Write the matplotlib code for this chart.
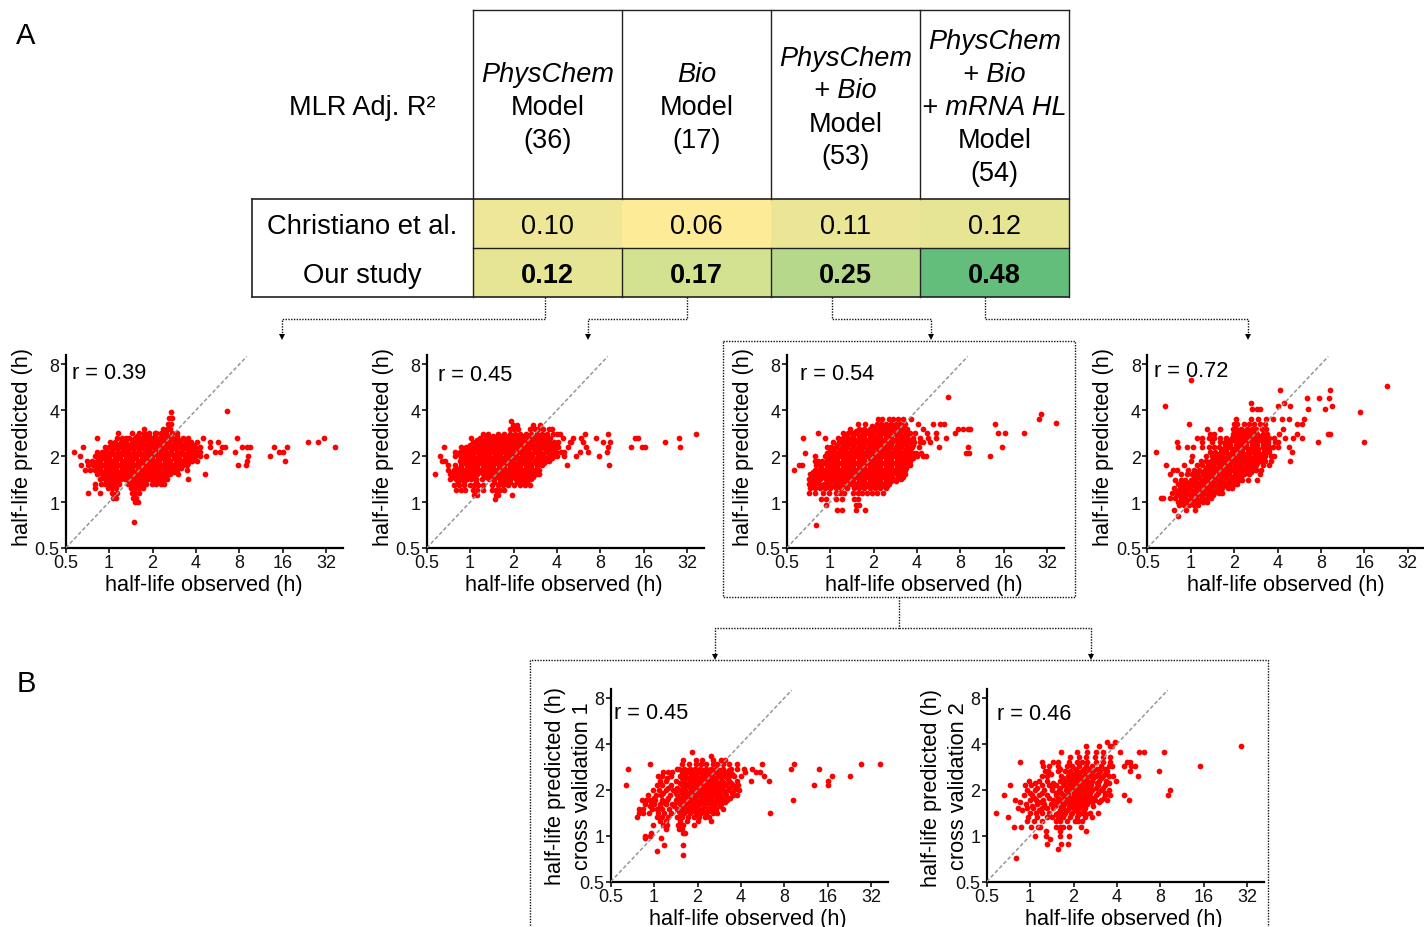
import matplotlib
matplotlib.use("Agg")
import matplotlib.pyplot as plt
from matplotlib.patches import Rectangle

plt.rcParams["font.family"] = ["Liberation Sans", "DejaVu Sans"]

W, H = 1424, 928

# table values
row_names = ["Christiano et al.", "Our study"]
christiano = ["0.10", "0.06", "0.11", "0.12"]
our_study = ["0.12", "0.17", "0.25", "0.48"]
christiano_colors = ["#EEE797", "#FEEB98", "#EBE696", "#E6E594"]
our_colors = ["#E6E594", "#D3E290", "#B6D88B", "#63BE7B"]
headers = [
    [("PhysChem", "italic"), ("Model", "normal"), ("(36)", "normal")],
    [("Bio", "italic"), ("Model", "normal"), ("(17)", "normal")],
    [("PhysChem", "italic"), ("+ Bio", "italic"), ("Model", "normal"), ("(53)", "normal")],
    [("PhysChem", "italic"), ("+ Bio", "italic"), ("+ mRNA HL", "italic"), ("Model", "normal"), ("(54)", "normal")],
]

# scatter values: (predicted, [observed, ...])
p1_rows = [
    (0.74, [1.48]),
    (1.00, [1.5, 1.58]),
    (1.07, [1.07, 1.12, 1.47, 1.54]),
    (1.14, [.71, .87, 1.05, 1.13, 1.43, 1.5, 1.6]),
    (1.23, [.8, .98, 1.04, 1.11, 1.42, 1.5, 1.6, 1.72]),
    (1.32, [.8, .88, .93, 1.0, 1.08, 1.17, 1.35, 1.44, 1.55, 1.68, 1.8, 1.98, 2.12, 2.28, 2.4]),
    (1.41, [.87, .94, 1.02, 1.1, 1.2, 1.28, 1.36, 1.48, 1.6, 1.74, 1.87, 1.96, 2.08, 2.24, 2.42, 2.52, 3.5]),
    (1.52, [.82, .89, .96, 1.04, 1.13, 1.23, 1.34, 1.46, 1.59, 1.73, 1.88, 2.04, 2.22, 2.42, 2.64, 3.0, 4.6]),
    (1.62, [.68, .74, .8, .87, .95, 1.03, 1.12, 1.22, 1.33, 1.45, 1.58, 1.72, 1.87, 2.03, 2.2, 2.4, 2.6, 2.83, 2.95, 3.45]),
    (1.74, [.64, .71, .77, .84, .91, .99, 1.08, 1.17, 1.28, 1.39, 1.52, 1.65, 1.8, 1.96, 2.13, 2.32, 2.53, 2.76, 3.0, 3.27, 3.45, 7.8, 8.9]),
    (1.87, [.7, .76, .83, .87, .95, 1.03, 1.12, 1.22, 1.33, 1.45, 1.58, 1.72, 1.88, 2.05, 2.23, 2.43, 2.65, 2.89, 3.15, 3.43, 3.74, 4.1, 9.1, 16.5]),
    (2.0, [.63, .8, .86, .93, 1.0, 1.09, 1.19, 1.3, 1.41, 1.54, 1.68, 1.83, 1.99, 2.17, 2.37, 2.58, 2.81, 3.06, 3.34, 3.64, 3.97, 4.3, 4.7, 9.2, 13]),
    (2.14, [.57, .82, .89, .97, 1.05, 1.15, 1.25, 1.36, 1.48, 1.62, 1.76, 1.92, 2.09, 2.28, 2.48, 2.7, 2.95, 3.21, 3.5, 3.82, 4.16, 4.3, 5.4, 5.9, 7.5, 15, 16]),
    (2.3, [.66, .93, 1.0, 1.09, 1.19, 1.3, 1.41, 1.54, 1.68, 1.83, 1.99, 2.17, 2.37, 2.58, 2.81, 3.06, 3.34, 3.64, 3.97, 4.3, 5.0, 6.1, 6.4, 8.4, 9.1, 9.5, 14, 17, 37]),
    (2.46, [1.02, 1.1, 1.2, 1.31, 1.43, 1.56, 1.7, 1.85, 2.02, 2.2, 2.4, 2.62, 2.85, 3.11, 3.39, 3.7, 4.05, 5.0, 5.7, 24, 28]),
    (2.64, [.82, 1.13, 1.22, 1.31, 1.38, 1.5, 1.63, 1.78, 1.94, 2.11, 2.3, 2.51, 2.73, 2.98, 3.25, 3.55, 4.5, 7.75, 31]),
    (2.83, [1.15, 1.45, 1.6, 1.75, 1.9, 2.07, 2.12, 2.3, 2.5, 2.72, 2.95]),
    (3.03, [1.75, 2.38, 2.52, 2.65]),
    (3.25, [2.55, 2.68]),
    (3.55, [2.62, 2.72]),
    (3.9, [2.7]),
    (3.97, [6.6]),
]
p1_core = [
    (1.27, [1.0, 1.08, 1.46, 1.6, 1.72]),
    (1.37, [.96, 1.05, 1.15, 1.4, 1.52, 1.66, 1.78, 2.0, 2.2, 2.35]),
    (1.47, [.9, .98, 1.07, 1.17, 1.27, 1.39, 1.51, 1.65, 1.8, 1.96, 2.14, 2.33, 2.5]),
    (1.57, [.85, .92, 1.0, 1.09, 1.19, 1.3, 1.41, 1.54, 1.68, 1.83, 1.99, 2.17, 2.37, 2.58, 2.8]),
    (1.68, [.8, .87, .95, 1.03, 1.12, 1.22, 1.33, 1.45, 1.58, 1.72, 1.88, 2.05, 2.23, 2.43, 2.65, 2.89, 3.15]),
    (1.8, [.8, .87, .95, 1.03, 1.12, 1.22, 1.33, 1.45, 1.58, 1.72, 1.88, 2.05, 2.23, 2.43, 2.65, 2.89, 3.15, 3.5]),
    (1.93, [.85, .92, 1.0, 1.09, 1.19, 1.3, 1.41, 1.54, 1.68, 1.83, 1.99, 2.17, 2.37, 2.58, 2.81, 3.06, 3.34, 3.64, 3.9]),
    (2.07, [.88, .95, 1.03, 1.12, 1.22, 1.33, 1.45, 1.58, 1.72, 1.88, 2.05, 2.23, 2.43, 2.65, 2.89, 3.15, 3.43, 3.74, 4.1]),
    (2.22, [.95, 1.04, 1.14, 1.24, 1.35, 1.47, 1.6, 1.75, 1.9, 2.07, 2.26, 2.46, 2.68, 2.92, 3.18, 3.47, 3.78, 3.97]),
    (2.38, [1.05, 1.15, 1.25, 1.36, 1.48, 1.62, 1.76, 1.92, 2.09, 2.28, 2.48, 2.7, 2.95, 3.21, 3.5, 3.8]),
    (2.55, [1.3, 1.45, 1.58, 1.72, 1.88, 2.05, 2.23, 2.43, 2.65, 2.89, 3.15, 3.4]),
    (2.72, [1.55, 1.75, 1.9, 2.09, 2.28, 2.48, 2.7, 2.95]),
]
p2_rows = [
    (1.05, [1.49]),
    (1.12, [1.06, 1.12, 1.5, 1.57, 1.95]),
    (1.2, [.8, .87, .92, 1.05, 1.12, 1.22, 1.42, 1.5, 1.6, 1.72]),
    (1.3, [.77, .84, .91, 1.0, 1.06, 1.14, 1.22, 1.42, 1.55, 1.68, 1.83, 2.0, 2.22, 2.4, 2.62]),
    (1.41, [.73, .8, .87, .95, 1.02, 1.1, 1.2, 1.35, 1.47, 1.6, 1.74, 1.9, 2.07, 2.25, 2.45, 2.65]),
    (1.52, [.57, .73, .79, .86, .94, 1.03, 1.12, 1.22, 1.33, 1.45, 1.58, 1.72, 1.88, 2.05, 2.23, 2.43, 2.65, 2.85, 3.0]),
    (1.62, [.7, .77, .84, .91, .99, 1.08, 1.18, 1.28, 1.4, 1.52, 1.66, 1.81, 1.97, 2.15, 2.34, 2.55, 2.78, 3.0]),
    (1.74, [.7, .78, .87, .95, 1.03, 1.12, 1.22, 1.33, 1.45, 1.58, 1.72, 1.88, 2.05, 2.23, 2.43, 2.65, 2.89, 3.15, 4.7, 9.2]),
    (1.87, [.64, .67, .85, .92, 1.0, 1.09, 1.19, 1.3, 1.41, 1.54, 1.68, 1.83, 1.99, 2.17, 2.37, 2.58, 2.81, 3.06, 3.34, 3.55]),
    (2.0, [.62, .78, .89, .97, 1.05, 1.15, 1.25, 1.36, 1.48, 1.62, 1.76, 1.92, 2.09, 2.28, 2.48, 2.7, 2.95, 3.21, 3.5, 3.82, 4.0, 4.5, 5.4, 7.8]),
    (2.14, [.78, .85, .92, 1.0, 1.09, 1.19, 1.3, 1.41, 1.54, 1.68, 1.83, 1.99, 2.17, 2.37, 2.58, 2.81, 3.06, 3.34, 3.64, 3.97, 4.3, 4.5, 5.8, 6.6, 8.9]),
    (2.3, [.66, .86, .93, 1.02, 1.12, 1.22, 1.33, 1.45, 1.58, 1.72, 1.88, 2.05, 2.23, 2.43, 2.65, 2.89, 3.15, 3.43, 3.74, 4.08, 4.8, 6.4, 9.1, 13, 15.6, 16.4, 28.5]),
    (2.46, [1.05, 1.15, 1.25, 1.36, 1.48, 1.62, 1.76, 1.92, 2.09, 2.28, 2.48, 2.7, 2.95, 3.21, 3.5, 3.82, 4.1, 4.95, 5.0, 6.1, 8.4, 9.4, 22.4]),
    (2.64, [1.02, 1.17, 1.28, 1.39, 1.52, 1.65, 1.8, 1.96, 2.14, 2.33, 2.54, 2.77, 3.02, 3.29, 3.59, 4.4, 5.2, 5.9, 7.5, 14, 14.7, 28]),
    (2.8, [1.22, 1.33, 1.55, 1.72, 1.88, 2.05, 2.23, 2.43, 2.65, 2.89, 3.15, 3.43, 3.74, 4.0, 4.2, 6.3, 9.0, 37]),
    (3.0, [1.9, 2.02, 2.15, 2.6, 2.8, 2.95, 3.2, 3.5, 3.7]),
    (3.2, [1.97, 2.1, 2.75, 3.05]),
    (3.4, [1.93]),
]
p2_core = [
    (1.35, [.82, .9, 1.1, 1.47, 1.6, 1.75, 1.9, 2.1, 2.3, 2.5]),
    (1.47, [.76, .83, .9, .98, 1.07, 1.28, 1.4, 1.52, 1.66, 1.81, 1.97, 2.15, 2.34, 2.55, 2.75]),
    (1.57, [.75, .82, .89, .97, 1.05, 1.15, 1.25, 1.36, 1.48, 1.62, 1.76, 1.92, 2.09, 2.28, 2.48, 2.7, 2.9]),
    (1.68, [.8, .87, .95, 1.03, 1.12, 1.22, 1.33, 1.45, 1.58, 1.72, 1.88, 2.05, 2.23, 2.43, 2.65, 2.89]),
    (1.8, [.9, .98, 1.07, 1.17, 1.27, 1.39, 1.51, 1.65, 1.8, 1.96, 2.14, 2.33, 2.54, 2.77, 3.02, 3.25]),
    (1.93, [.87, .95, 1.03, 1.12, 1.22, 1.33, 1.45, 1.58, 1.72, 1.88, 2.05, 2.23, 2.43, 2.65, 2.89, 3.15, 3.43, 3.7]),
    (2.07, [.82, .89, .97, 1.05, 1.15, 1.25, 1.36, 1.48, 1.62, 1.76, 1.92, 2.09, 2.28, 2.48, 2.7, 2.95, 3.21, 3.5, 3.85]),
    (2.22, [.9, .98, 1.07, 1.17, 1.27, 1.39, 1.51, 1.65, 1.8, 1.96, 2.14, 2.33, 2.54, 2.77, 3.02, 3.29, 3.59, 3.9]),
    (2.38, [1.0, 1.09, 1.19, 1.3, 1.41, 1.54, 1.68, 1.83, 1.99, 2.17, 2.37, 2.58, 2.81, 3.06, 3.34, 3.64, 3.97]),
    (2.55, [1.12, 1.22, 1.33, 1.45, 1.58, 1.72, 1.88, 2.05, 2.23, 2.43, 2.65, 2.89, 3.15, 3.43]),
    (2.72, [1.45, 1.6, 1.75, 1.92, 2.09, 2.28, 2.48, 2.7, 2.95, 3.21]),
]
p3_rows = [
    (.71, [.8]),
    (.89, [1.11, 1.2, 1.51, 1.75]),
    (.96, [.94, 1.5, 1.58]),
    (1.05, [.87, .94, 1.09, 1.2, 1.47, 1.55]),
    (1.15, [.71, .78, .89, .98, 1.09, 1.17, 1.25, 1.45, 1.55, 1.66, 1.79, 1.95, 2.1, 2.32]),
    (1.23, [.73, .79, .85, .92, 1.0, 1.09, 1.19, 1.3, 1.47, 1.58, 1.72, 1.88, 2.05, 2.23, 2.43]),
    (1.32, [.71, .77, .84, .91, .99, 1.08, 1.18, 1.28, 1.4, 1.52, 1.66, 1.81, 1.97, 2.15, 2.34, 2.55]),
    (1.41, [.71, .78, .85, .93, 1.0, 1.09, 1.19, 1.33, 1.45, 1.58, 1.72, 1.88, 2.05, 2.23, 2.43, 2.65, 2.89, 3.1]),
    (1.52, [.73, .8, .87, .95, 1.03, 1.12, 1.22, 1.33, 1.45, 1.58, 1.72, 1.88, 2.05, 2.23, 2.43, 2.65, 2.89, 3.15, 3.3]),
    (1.62, [.56, .78, .84, .91, .99, 1.08, 1.18, 1.28, 1.4, 1.52, 1.66, 1.81, 1.97, 2.15, 2.34, 2.55, 2.78, 3.02, 3.3]),
    (1.74, [.61, .64, .8, .87, .95, 1.03, 1.12, 1.22, 1.33, 1.45, 1.58, 1.72, 1.88, 2.05, 2.23, 2.43, 2.65, 2.89, 3.15, 3.35, 3.6]),
    (1.87, [.78, .82, .88, .95, 1.03, 1.12, 1.22, 1.33, 1.45, 1.58, 1.72, 1.88, 2.05, 2.23, 2.43, 2.65, 2.89, 3.15, 3.43, 3.6]),
    (2.0, [.79, .92, 1.0, 1.09, 1.19, 1.3, 1.41, 1.54, 1.68, 1.83, 1.99, 2.17, 2.37, 2.58, 2.81, 3.06, 3.34, 3.64, 4.0, 4.4, 4.6, 12.9]),
    (2.1, [.67, .95, 1.03, 1.12, 1.22, 1.33, 1.45, 1.58, 1.72, 1.88, 2.05, 2.23, 2.43, 2.65, 2.89, 3.15, 3.43, 3.74, 3.95, 4.3, 8.8, 9.2]),
    (2.3, [.95, 1.02, 1.1, 1.2, 1.31, 1.43, 1.56, 1.7, 1.85, 2.02, 2.2, 2.4, 2.62, 2.85, 3.11, 3.39, 3.7, 4.15, 5.7, 9, 15.5]),
    (2.46, [1.05, 1.15, 1.25, 1.36, 1.48, 1.62, 1.76, 1.92, 2.09, 2.28, 2.48, 2.7, 2.95, 3.21, 3.5, 3.82, 4.2, 4.4, 4.9]),
    (2.64, [.65, .92, 1.13, 1.22, 1.33, 1.45, 1.58, 1.72, 1.88, 2.05, 2.23, 2.43, 2.65, 2.89, 3.15, 3.43, 3.74, 4.2, 4.75, 5.4, 6.4]),
    (2.83, [.82, 1.23, 1.33, 1.41, 1.54, 1.68, 1.83, 1.99, 2.17, 2.37, 2.58, 2.81, 3.06, 3.34, 3.6, 3.9, 4.7, 5.4, 7.4, 14.6, 16.3, 22]),
    (3.03, [1.37, 1.58, 1.72, 1.88, 2.05, 2.23, 2.43, 2.65, 2.89, 3.15, 3.4, 4.4, 7.7, 8.3, 9, 9.4]),
    (3.25, [1.55, 1.75, 2.1, 2.25, 2.45, 2.65, 2.85, 3.05, 3.3, 4.1, 5.2, 5.8, 6.2, 14]),
    (3.5, [2.15, 2.3, 2.55, 2.75, 2.95, 3.2, 3.65, 28]),
    (3.8, [29]),
    (3.3, [37]),
    (4.89, [6.6]),
]
p3_core = [
    (1.27, [.76, .88, .97, 1.06, 1.16, 1.27, 1.5, 1.63, 1.78, 1.93, 2.1, 2.28, 2.48]),
    (1.37, [.74, .81, .95, 1.03, 1.12, 1.22, 1.33, 1.45, 1.58, 1.72, 1.88, 2.05, 2.23, 2.43, 2.65, 2.85]),
    (1.47, [.75, .82, .89, .97, 1.05, 1.15, 1.25, 1.36, 1.48, 1.62, 1.76, 1.92, 2.09, 2.28, 2.48, 2.7, 2.95, 3.2]),
    (1.57, [.76, .83, .9, .98, 1.07, 1.17, 1.27, 1.39, 1.51, 1.65, 1.8, 1.96, 2.14, 2.33, 2.54, 2.77, 3.02, 3.25]),
    (1.68, [.87, .95, 1.03, 1.12, 1.22, 1.33, 1.45, 1.58, 1.72, 1.88, 2.05, 2.23, 2.43, 2.65, 2.89, 3.15, 3.35]),
    (1.8, [.84, .91, .99, 1.08, 1.18, 1.28, 1.4, 1.52, 1.66, 1.81, 1.97, 2.15, 2.34, 2.55, 2.78, 3.02, 3.3, 3.5]),
    (1.93, [.95, 1.03, 1.12, 1.22, 1.33, 1.45, 1.58, 1.72, 1.88, 2.05, 2.23, 2.43, 2.65, 2.89, 3.15, 3.43, 3.74]),
    (2.05, [1.0, 1.09, 1.19, 1.3, 1.41, 1.54, 1.68, 1.83, 1.99, 2.17, 2.37, 2.58, 2.81, 3.06, 3.34, 3.64]),
    (2.2, [1.0, 1.07, 1.17, 1.27, 1.39, 1.51, 1.65, 1.8, 1.96, 2.14, 2.33, 2.54, 2.77, 3.02, 3.29, 3.59]),
    (2.38, [1.12, 1.22, 1.33, 1.45, 1.58, 1.72, 1.88, 2.05, 2.23, 2.43, 2.65, 2.89, 3.15, 3.43, 3.74]),
    (2.55, [1.2, 1.3, 1.41, 1.54, 1.68, 1.83, 1.99, 2.17, 2.37, 2.58, 2.81, 3.06, 3.34, 3.6]),
    (2.73, [1.3, 1.45, 1.58, 1.72, 1.88, 2.05, 2.23, 2.43, 2.65, 2.89, 3.15, 3.43]),
    (2.93, [1.5, 1.66, 1.81, 1.97, 2.15, 2.34, 2.55, 2.78, 3.02, 3.3]),
    (3.14, [1.95, 2.12, 2.33, 2.54, 2.77, 3.0, 3.2]),
]
p4_rows = [
    (.81, [.81]),
    (.89, [.77, .93, 1.07]),
    (.95, [.83, .9, .98, 1.06, 1.13]),
    (1.0, [.82, .89, .96, 1.04, 1.13, 1.22, 1.3]),
    (1.07, [.62, .64, .72, .78, .85, .92, 1.0, 1.09, 1.19, 1.3, 1.39]),
    (1.15, [.74, .81, .88, .96, 1.04, 1.13, 1.23, 1.34, 1.46, 1.58, 1.66]),
    (1.23, [.76, .84, .91, .99, 1.08, 1.17, 1.28, 1.39, 1.52, 1.65, 1.8, 1.93]),
    (1.32, [.81, .88, .96, 1.04, 1.13, 1.23, 1.34, 1.46, 1.59, 1.73, 1.88, 2.04, 2.1]),
    (1.39, [.78, .85, .92, 1.0, 1.09, 1.19, 1.3, 1.41, 1.54, 1.68, 1.83, 1.99, 2.17, 2.28, 2.5, 2.9]),
    (1.52, [.72, .86, .94, 1.02, 1.11, 1.21, 1.31, 1.43, 1.56, 1.7, 1.85, 2.02, 2.2, 2.35, 2.55, 3.0]),
    (1.62, [.75, .8, .96, 1.05, 1.15, 1.25, 1.36, 1.48, 1.62, 1.76, 1.92, 2.09, 2.28, 2.48, 2.7, 2.85, 3.05]),
    (1.74, [.67, .9, 1.1, 1.2, 1.31, 1.43, 1.56, 1.7, 1.85, 2.02, 2.2, 2.4, 2.62, 2.85, 3.15, 3.5]),
    (1.87, [1.0, 1.18, 1.28, 1.39, 1.52, 1.65, 1.8, 1.96, 2.14, 2.33, 2.54, 2.77, 3.02, 3.29, 3.6, 4.9]),
    (2.0, [1.02, 1.28, 1.4, 1.52, 1.66, 1.81, 1.97, 2.15, 2.34, 2.55, 2.78, 3.02, 3.3, 3.6, 3.8]),
    (2.14, [.57, 1.36, 1.48, 1.62, 1.76, 1.92, 2.09, 2.28, 2.48, 2.7, 2.95, 3.21, 3.5, 5.0]),
    (2.3, [.82, .94, 1.03, 1.2, 1.33, 1.45, 1.58, 1.72, 1.88, 2.05, 2.23, 2.43, 2.65, 2.89, 3.15, 3.43, 3.7, 4.0, 4.8]),
    (2.46, [.8, 1.2, 1.4, 1.6, 1.72, 1.88, 2.05, 2.23, 2.43, 2.65, 2.89, 3.15, 3.43, 3.85, 4.0, 7.6, 16]),
    (2.64, [1.1, 1.2, 1.33, 1.46, 1.6, 1.76, 1.92, 2.09, 2.28, 2.48, 2.7, 2.95, 3.21, 3.5, 3.8, 4.5, 5.1, 5.9]),
    (2.8, [1.35, 1.45, 1.95, 2.05, 2.23, 2.43, 2.65, 2.89, 3.15, 3.4, 4.1, 5.5, 8.9, 9.2]),
    (3.03, [1.3, 1.6, 1.95, 2.05, 2.25, 2.45, 2.65, 2.85, 3.1, 3.35, 4.35]),
    (3.25, [.97, 2.0, 2.1, 2.35, 2.55, 2.75, 3.0, 3.25, 5.5, 5.9]),
    (3.5, [2.05, 2.6, 2.95, 3.35, 3.7, 4.3, 4.8, 6.1]),
    (4.1, [2.65, 2.9, 3.0, 6.5, 8.5]),
    (4.26, [.66, 4.06, 4.85, 9.6]),
    (4.46, [2.6, 4.4]),
    (4.8, [6.4, 7.8, 9.1]),
    (5.4, [4.15, 9.3]),
    (5.75, [23]),
    (6.3, [1.01]),
    (3.9, [15]),
]
p4_core = [
    (1.03, [.87, .95, 1.03, 1.12, 1.22]),
    (1.11, [.8, .86, .93, 1.01, 1.1, 1.2, 1.31, 1.42]),
    (1.19, [.8, .87, .95, 1.03, 1.12, 1.22, 1.33, 1.45, 1.58]),
    (1.27, [.85, .92, 1.0, 1.09, 1.19, 1.3, 1.41, 1.54, 1.68, 1.85]),
    (1.36, [.93, 1.01, 1.1, 1.2, 1.31, 1.43, 1.56, 1.7, 1.85, 2.02]),
    (1.46, [1.05, 1.15, 1.25, 1.36, 1.48, 1.62, 1.76, 1.92, 2.09, 2.25]),
    (1.57, [1.1, 1.2, 1.31, 1.43, 1.56, 1.7, 1.85, 2.02, 2.2, 2.4, 2.6]),
    (1.68, [1.27, 1.39, 1.52, 1.65, 1.8, 1.96, 2.14, 2.33, 2.54, 2.77]),
    (1.8, [1.33, 1.45, 1.58, 1.72, 1.88, 2.05, 2.23, 2.43, 2.65, 2.89]),
    (1.93, [1.45, 1.58, 1.72, 1.88, 2.05, 2.23, 2.43, 2.65, 2.89, 3.15]),
    (2.07, [1.52, 1.66, 1.81, 1.97, 2.15, 2.34, 2.55, 2.78, 3.02, 3.3]),
    (2.22, [1.62, 1.76, 1.92, 2.09, 2.28, 2.48, 2.7, 2.95, 3.21, 3.5]),
    (2.38, [1.72, 1.88, 2.05, 2.23, 2.43, 2.65, 2.89, 3.15, 3.43]),
    (2.55, [1.83, 1.99, 2.17, 2.37, 2.58, 2.81, 3.06, 3.34]),
    (2.72, [2.0, 2.17, 2.37, 2.58, 2.81, 3.06]),
    (2.92, [2.15, 2.35, 2.55, 2.8]),
]
p5_rows = [
    (.75, [1.58]),
    (.79, [1.05]),
    (.87, [1.17, 1.58]),
    (.96, [.87, 1.12]),
    (1.0, [.87, .94]),
    (1.05, [.95, 1.58, 1.63]),
    (1.1, [1.2, 1.48, 1.55]),
    (1.17, [.98, 1.15, 1.22, 1.47, 1.58, 1.9]),
    (1.25, [1.1, 1.2, 1.5, 1.7, 2.0, 2.5]),
    (1.32, [.76, 1.05, 1.13, 1.25, 1.45, 1.55, 1.72, 1.88, 2.05, 2.25, 2.4]),
    (1.4, [.78, .84, .92, 1.07, 1.17, 1.3, 1.52, 1.62, 1.76, 1.95, 2.1, 2.3, 2.55, 2.75, 6.4]),
    (1.5, [.79, .84, .97, 1.05, 1.14, 1.27, 1.43, 1.56, 1.68, 1.84, 2.0, 2.15, 2.35, 2.5, 2.7, 3.0]),
    (1.62, [.86, 1.0, 1.09, 1.2, 1.33, 1.5, 1.62, 1.75, 1.9, 2.08, 2.25, 2.45, 2.65, 2.9]),
    (1.72, [.83, .88, .93, 1.02, 1.13, 1.22, 1.42, 1.54, 1.66, 1.8, 1.96, 2.14, 2.33, 2.54, 2.77, 3.02, 3.2, 9.2]),
    (1.85, [.9, 1.03, 1.12, 1.28, 1.45, 1.58, 1.72, 1.88, 2.05, 2.23, 2.43, 2.65, 2.85, 3.15, 3.5, 3.75]),
    (2.0, [.98, 1.08, 1.2, 1.36, 1.5, 1.64, 1.8, 1.96, 2.14, 2.33, 2.54, 2.77, 3.02, 3.25, 3.6, 3.9]),
    (2.15, [.64, 1.05, 1.13, 1.3, 1.55, 1.7, 1.85, 2.02, 2.2, 2.4, 2.6, 2.85, 3.15, 3.5, 3.8, 12.9, 16]),
    (2.3, [1.1, 1.2, 1.42, 1.6, 1.76, 1.92, 2.09, 2.28, 2.48, 2.7, 2.95, 3.3, 3.75, 4.7, 6.3, 16]),
    (2.46, [1.07, 1.14, 1.3, 1.5, 1.65, 1.8, 1.96, 2.14, 2.33, 2.54, 2.77, 3.02, 3.3, 3.6, 4.0, 5.8, 17, 23]),
    (2.6, [1.15, 1.25, 1.33, 1.55, 1.72, 1.88, 2.05, 2.23, 2.43, 2.65, 2.89, 3.2, 4.3, 5.1, 5.4]),
    (2.75, [.66, 1.43, 1.48, 1.62, 1.76, 1.92, 2.09, 2.28, 2.48, 2.7, 3.0, 3.4, 3.75, 4.2, 4.8, 8.9, 14]),
    (2.95, [.93, 1.55, 1.75, 1.95, 2.1, 2.3, 2.55, 2.75, 3.0, 3.3, 3.75, 5.6, 9.4, 27, 37]),
    (3.15, [1.58, 1.95, 2.15, 2.55, 2.9, 3.1]),
    (3.35, [2.5]),
    (3.55, [1.82]),
]
p5_core = [
    (1.45, [1.48, 1.72, 1.9, 2.2, 2.42]),
    (1.56, [.93, 1.1, 1.38, 1.6, 1.78, 1.95, 2.25, 2.6, 2.85]),
    (1.67, [.95, 1.16, 1.45, 1.7, 1.86, 2.02, 2.2, 2.42, 2.68, 3.1]),
    (1.78, [1.0, 1.25, 1.5, 1.62, 1.75, 1.92, 2.1, 2.28, 2.5, 2.72, 2.95, 3.35]),
    (1.92, [1.15, 1.42, 1.55, 1.68, 1.84, 2.0, 2.18, 2.38, 2.6, 2.82, 3.1, 3.45]),
    (2.07, [1.25, 1.45, 1.6, 1.76, 1.92, 2.09, 2.28, 2.48, 2.7, 2.95, 3.3, 3.65]),
    (2.22, [1.5, 1.65, 1.8, 1.96, 2.14, 2.33, 2.54, 2.77, 3.05, 3.4]),
    (2.38, [1.22, 1.55, 1.72, 1.88, 2.05, 2.23, 2.43, 2.65, 2.9, 3.2]),
    (2.53, [1.6, 1.8, 1.96, 2.14, 2.33, 2.54, 2.8, 3.1, 3.45]),
    (2.68, [1.7, 1.85, 2.0, 2.2, 2.4, 2.6, 2.85, 3.3]),
]
p6_rows = [
    (.71, [.8]),
    (.82, [1.57]),
    (.88, [1.3, 1.63, 1.82]),
    (.95, [1.38]),
    (1.0, [1.08, 1.28, 1.6, 1.86]),
    (1.07, [1.28, 1.6, 2.45]),
    (1.15, [.77, .87, 1.02, 1.13, 1.18, 1.5, 1.6, 1.7, 1.85, 2.25]),
    (1.25, [.95, 1.06, 1.2, 1.5, 1.62, 1.8, 2.05, 2.15, 2.3]),
    (1.33, [.7, .96, 1.12, 1.3, 1.42, 1.55, 1.68, 1.88, 2.1, 2.4, 2.7]),
    (1.42, [.58, 1.0, 1.1, 1.2, 1.35, 1.55, 1.62, 1.75, 1.95, 2.15, 2.3, 2.6, 2.95]),
    (1.52, [.83, .95, 1.05, 1.2, 1.3, 1.45, 1.68, 1.85, 2.0, 2.2, 2.4]),
    (1.62, [.93, 1.12, 1.25, 1.4, 1.55, 1.72, 1.92, 2.08, 2.25, 2.5]),
    (1.72, [.79, 1.0, 1.1, 1.22, 1.45, 1.6, 1.78, 1.95, 2.15, 2.35, 2.55, 2.8, 3.1, 3.4, 4.85]),
    (1.85, [.66, .9, 1.03, 1.16, 1.32, 1.5, 1.68, 1.83, 2.0, 2.17, 2.37, 2.58, 2.85, 3.3, 3.6, 4.5, 9.1]),
    (2.0, [.95, 1.08, 1.25, 1.42, 1.58, 1.76, 1.92, 2.09, 2.28, 2.48, 2.7, 3.1, 3.5, 9.4]),
    (2.14, [.72, .92, 1.02, 1.2, 1.35, 1.5, 1.72, 1.88, 2.05, 2.23, 2.43, 2.65, 2.95, 3.3]),
    (2.3, [.98, 1.15, 1.3, 1.6, 1.76, 1.92, 2.09, 2.28, 2.48, 2.7, 3.0, 3.35, 3.95]),
    (2.46, [1.2, 1.3, 1.65, 1.82, 1.98, 2.15, 2.35, 2.6, 2.85, 3.2, 3.5, 3.75, 5.6]),
    (2.64, [1.27, 1.33, 1.55, 1.75, 1.9, 2.1, 2.3, 2.55, 2.75, 3.05, 3.4, 4.95, 7.8]),
    (2.85, [1.22, 1.35, 1.55, 1.8, 1.95, 2.2, 2.45, 2.7, 3.1, 3.5, 3.7, 4.5, 5.0, 5.3, 15]),
    (3.05, [.85, 1.2, 1.45, 1.55, 1.85, 2.1, 2.3, 2.5, 2.85, 3.2, 3.6, 4.7, 4.9]),
    (3.3, [1.9, 2.2, 2.45, 2.8, 3.2, 3.6]),
    (3.55, [1.65, 2.1, 2.5, 2.85, 3.2, 4.2, 5.7, 6.2, 8.5]),
    (3.85, [2.45, 3.0, 3.6, 3.7, 29]),
    (4.1, [3.4, 3.85]),
]
p6_core = [
    (1.38, [1.5, 1.72, 1.92, 2.2, 2.45]),
    (1.47, [.88, 1.15, 1.6, 1.8, 2.05, 2.35]),
    (1.57, [1.03, 1.48, 1.65, 1.85, 2.1, 2.35, 2.75]),
    (1.67, [.85, 1.18, 1.5, 1.68, 1.85, 2.02, 2.2, 2.45, 2.7, 3.0]),
    (1.78, [1.06, 1.35, 1.55, 1.72, 1.9, 2.08, 2.28, 2.48, 2.7, 3.25]),
    (1.92, [1.0, 1.2, 1.5, 1.65, 1.82, 2.0, 2.2, 2.4, 2.62, 2.95, 3.3]),
    (2.07, [1.12, 1.42, 1.62, 1.8, 1.98, 2.17, 2.37, 2.58, 2.85, 3.2]),
    (2.22, [1.08, 1.45, 1.68, 1.85, 2.02, 2.2, 2.4, 2.62, 2.9, 3.5]),
    (2.38, [1.7, 1.88, 2.05, 2.23, 2.45, 2.75, 3.1]),
    (2.55, [1.4, 1.85, 2.0, 2.2, 2.45, 2.7, 2.95, 3.3]),
    (2.75, [1.62, 2.05, 2.35, 2.6, 2.9, 3.3]),
]
p_rows = [p1_rows + p1_core, p2_rows + p2_core, p3_rows + p3_core,
          p4_rows + p4_core, p5_rows + p5_core, p6_rows + p6_core]

r_labels = ["r = 0.39", "r = 0.45", "r = 0.54", "r = 0.72", "r = 0.45", "r = 0.46"]
x_ticks = [0.5, 1, 2, 4, 8, 16, 32]
y_ticks = [0.5, 1, 2, 4, 8]
diag_line = [0.5, 9]

# axes origin in image pixels and where the r label / axis labels sit
origins = [(65.7, 549), (426.7, 549), (786.7, 549), (1147.3, 549), (610.7, 882.7), (986.7, 882.7)]
r_pos = [(72, 374), (438, 376), (800, 375), (1154, 372), (614, 714), (997, 715)]
xlabel_x = [204, 564, 924, 1286, 748, 1124]
ylabel_x = [23, 383, 743, 1104, 556, 932]
ylabel_y = [447, 447, 447, 447, 786, 788]
ylabel2_x = [None, None, None, None, 582, 959]
ylabel2_txt = [None, None, None, None, "cross validation 1", "cross validation 2"]

fig = plt.figure(figsize=(W / 100, H / 100), dpi=100, facecolor="white")

# overlay in pixel coordinates for table, connectors and free text
ov = fig.add_axes([0, 0, 1, 1], zorder=5)
ov.set_xlim(0, W)
ov.set_ylim(H, 0)
ov.axis("off")
ov.patch.set_alpha(0)

col_x = [473, 622, 771, 920, 1069]
for i in range(4):
    ov.add_patch(Rectangle((col_x[i], 200), 149, 49, fc=christiano_colors[i], ec="none"))
    ov.add_patch(Rectangle((col_x[i], 249), 149, 49, fc=our_colors[i], ec="none"))
    cx = (col_x[i] + col_x[i + 1]) / 2
    ov.text(cx, 227, christiano[i], fontsize=19.5, ha="center", va="center")
    ov.text(cx, 276, our_study[i], fontsize=19.5, fontweight="bold", ha="center", va="center")
    # header lines
    n = len(headers[i])
    for k, (txt, style) in enumerate(headers[i]):
        ov.text(cx, 108 + (k - (n - 1) / 2) * 33, txt, fontsize=19.5, style=style, ha="center", va="center")

lc = "#222222"
for x in col_x:
    ov.plot([x, x], [11, 200], color=lc, lw=1)
for x in col_x[1:4]:
    ov.plot([x, x], [249, 298], color=lc, lw=1)
ov.plot([473, 1069], [11, 11], color=lc, lw=1)
ov.plot([252, 1069], [200, 200], color=lc, lw=1.2)
ov.plot([473, 1069], [249, 249], color=lc, lw=1)
ov.plot([252, 1069], [298, 298], color=lc, lw=1.2)
ov.plot([252, 252], [200, 298], color=lc, lw=1.2)
ov.plot([473, 473], [200, 298], color=lc, lw=1)
ov.plot([1069, 1069], [200, 298], color=lc, lw=1)

ov.text(362, 108, "MLR Adj. R²", fontsize=19.5, ha="center", va="center")
ov.text(362, 227, row_names[0], fontsize=19.7, ha="center", va="center")
ov.text(362, 276, row_names[1], fontsize=19.7, ha="center", va="center")
ov.text(26, 36, "A", fontsize=21, ha="center", va="center")
ov.text(26, 684, "B", fontsize=21, ha="center", va="center")


def dotted(xs, ys, arrow=True):
    ov.plot(xs, ys, color="#111111", lw=1, ls=(0, (1, 1)), clip_on=False)
    if arrow:
        ov.plot(xs[-1], ys[-1], marker="v", ms=4.5, color="black", mew=0)


dotted([545, 545, 282, 282], [298, 320, 320, 338])
dotted([687, 687, 588, 588], [298, 320, 320, 338])
dotted([832, 832, 931, 931], [298, 320, 320, 338])
dotted([985, 985, 1248, 1248], [298, 320, 320, 338])
dotted([723, 1075, 1075, 723, 723], [342, 342, 598, 598, 342], arrow=False)
dotted([899, 899], [598, 629], arrow=False)
dotted([899, 715, 715], [629, 629, 658])
dotted([899, 1091, 1091], [629, 629, 658])
dotted([530, 530, 1268, 1268], [940, 661, 661, 940], arrow=False)

xmax, ymax = 42, 9.2
for i, rows in enumerate(p_rows):
    x0, y0 = origins[i]
    w, h = 277.5, 193
    ax = fig.add_axes([x0 / W, 1 - y0 / H, w / W, h / H], zorder=3)
    ax.patch.set_alpha(0)
    obs, pred = [], []
    for p, xs in rows:
        obs += xs
        pred += [p] * len(xs)
    ax.scatter(obs, pred, s=17, color="#FF0000", linewidths=0, clip_on=False, zorder=2)
    ax.plot(diag_line, diag_line, color="#969696", lw=1.1, ls=(0, (2.5, 1.5)), zorder=3)
    ax.set_xscale("log", base=2)
    ax.set_yscale("log", base=2)
    ax.set_xlim(0.5, xmax)
    ax.set_ylim(0.5, ymax)
    ax.set_xticks(x_ticks)
    ax.set_xticklabels([str(t) for t in x_ticks])
    ax.set_yticks(y_ticks)
    ax.set_yticklabels([str(t) for t in y_ticks])
    ax.minorticks_off()
    ax.tick_params(labelsize=13, length=3.5, width=1.2, pad=1, colors="#111111")
    for s in ["top", "right"]:
        ax.spines[s].set_visible(False)
    for s in ["left", "bottom"]:
        ax.spines[s].set_linewidth(1.6)
    ax.set_xlabel("half-life observed (h)", fontsize=15.7, va="center")
    ax.xaxis.set_label_coords((xlabel_x[i] - x0) / w, -37 / h)
    ax.set_ylabel("half-life predicted (h)", fontsize=15.7, va="center")
    ax.yaxis.set_label_coords((ylabel_x[i] - x0) / w, (y0 - ylabel_y[i]) / h)
    if ylabel2_txt[i]:
        ax.text((ylabel2_x[i] - x0) / w, 0.5, ylabel2_txt[i], rotation=90, fontsize=15.7,
                ha="center", va="center", transform=ax.transAxes, clip_on=False)
    ov.text(r_pos[i][0], r_pos[i][1], r_labels[i], fontsize=15.7, ha="left", va="center")

fig.savefig("out.png", dpi=100)
